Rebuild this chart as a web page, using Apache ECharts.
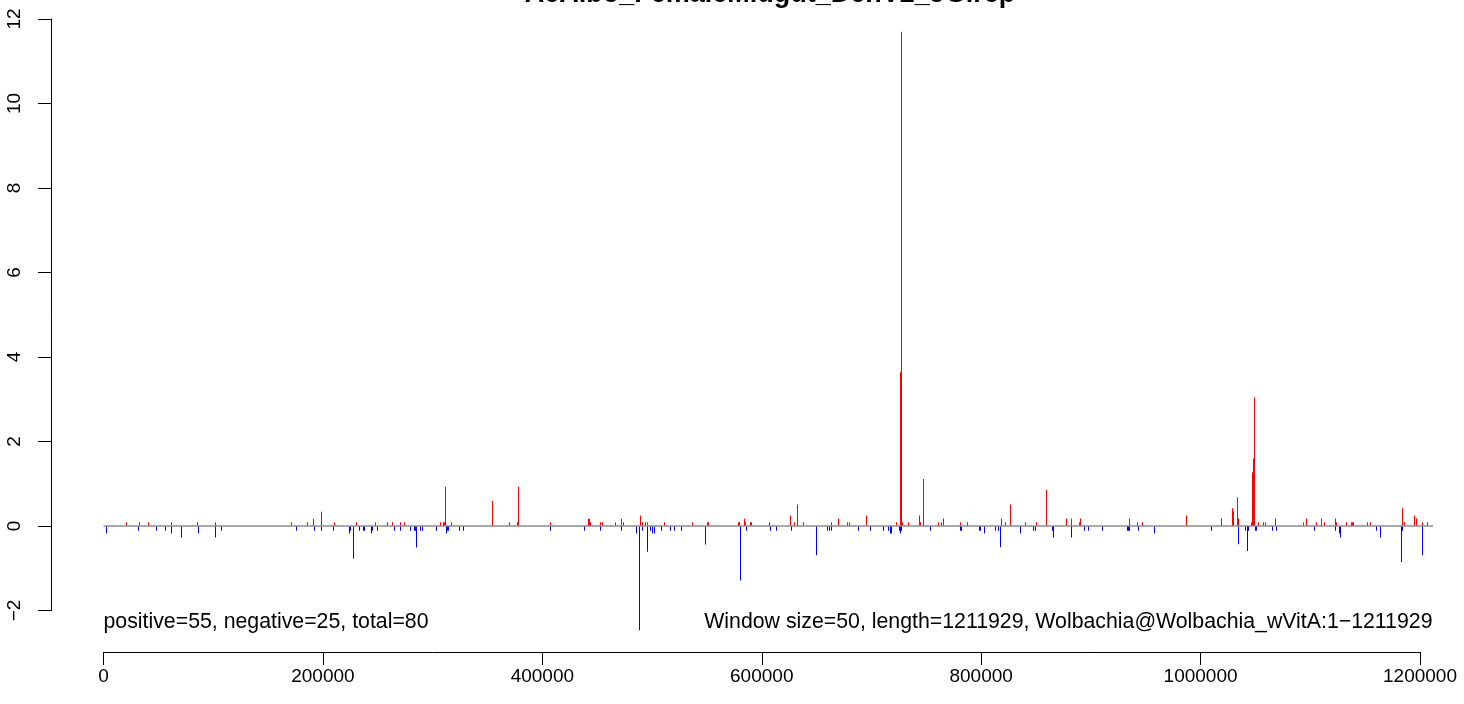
<!DOCTYPE html>
<html><head><meta charset="utf-8">
<script src="https://cdn.jsdelivr.net/npm/echarts@6/dist/echarts.min.js"></script>
<style>html,body{margin:0;padding:0;background:#fff}#c{width:1464px;height:704px}</style>
</head><body><div id="c"></div>
<script>
// ---------------- data ----------------
const titleText = 'AeAlbo_FemaleMidgut_DenV2_JG.rep';
const leftNote = 'positive=55, negative=25, total=80';
const rightNote = 'Window size=50, length=1211929, Wolbachia@Wolbachia_wVitA:1\u22121211929';
const seqLength = 1211929;
const xTickMin = 0, xTickMax = 1200000, xTickStep = 200000;
const yTickMin = -2, yTickMax = 12, yTickStep = 2;

// [position (bp), value]  — positive strand (red)
const plusStrand = [
 [20800,0.09],[32600,0.09],[40800,0.09],[61800,0.09],[85500,0.09],[101900,0.09],[171200,0.09],[185800,0.09],[191200,0.17],[198500,0.34],
 [210400,0.09],[230400,0.09],[247700,0.09],[258700,0.09],[263200,0.09],[270500,0.09],[274200,0.09],[307000,0.09],[309700,0.09],[310600,0.09],
 [311900,0.93],[317000,0.09],[354400,0.59],[369900,0.09],[377200,0.09],[378100,0.93],[407300,0.09],[441900,0.17],[442800,0.17],[443700,0.09],
 [452800,0.09],[454700,0.09],[466500,0.09],[472000,0.17],[473800,0.09],[489300,0.25],[491100,0.09],[493900,0.09],[495700,0.09],[511200,0.09],
 [536700,0.09],[550400,0.09],[551300,0.09],[578600,0.09],[579500,0.09],[584100,0.17],[585000,0.09],[589600,0.09],[590500,0.09],[606900,0.09],
 [626000,0.25],[629700,0.09],[632400,0.51],[637900,0.09],[663400,0.09],[669800,0.18],[678000,0.09],[679800,0.09],[695300,0.25],[722600,0.09],
 [726300,3.64],[727200,11.7],[728100,0.09],[733600,0.09],[743600,0.25],[744500,0.09],[747300,1.11],[760900,0.09],[763700,0.09],[765500,0.18],
 [781000,0.09],[787400,0.09],[818300,0.18],[822000,0.09],[826500,0.51],[840200,0.09],[850200,0.09],[859400,0.85],[877600,0.18],[882200,0.18],
 [889400,0.09],[890400,0.18],[935000,0.18],[942300,0.09],[946900,0.09],[987000,0.25],[1018900,0.18],[1028900,0.42],[1029800,0.35],[1033500,0.68],
 [1034400,0.18],[1046200,0.09],[1047100,1.27],[1048000,1.6],[1049000,3.04],[1052600,0.09],[1057200,0.09],[1059000,0.09],[1068100,0.18],[1093600,0.09],
 [1096400,0.18],[1105500,0.09],[1110000,0.18],[1112800,0.09],[1122800,0.18],[1123700,0.09],[1132800,0.09],[1137400,0.09],[1138300,0.09],[1139200,0.09],
 [1152000,0.09],[1154700,0.09],[1183900,0.42],[1185700,0.09],[1194800,0.25],[1196600,0.18],[1202100,0.09],[1206700,0.09]
];

// [position (bp), value]  — negative strand (blue)
const minusStrand = [
 [2600,-0.18],[31700,-0.11],[48100,-0.11],[56300,-0.11],[61800,-0.18],[70900,-0.27],[86400,-0.18],[101900,-0.27],[107400,-0.11],[176100,-0.11],
 [192100,-0.11],[198500,-0.11],[209500,-0.11],[224000,-0.18],[225000,-0.11],[227700,-0.77],[233200,-0.11],[236800,-0.11],[237700,-0.11],[244100,-0.18],
 [245000,-0.11],[249600,-0.11],[265100,-0.11],[270500,-0.11],[279600,-0.11],[283300,-0.11],[284200,-0.11],[285100,-0.51],[288800,-0.11],[290600,-0.11],
 [303300,-0.11],[312500,-0.18],[313400,-0.11],[314300,-0.11],[324300,-0.11],[328000,-0.11],[407300,-0.11],[438300,-0.11],[452800,-0.11],[472000,-0.11],
 [485600,-0.18],[488400,-2.47],[491100,-0.11],[495700,-0.61],[498400,-0.11],[500200,-0.18],[502000,-0.18],[508400,-0.11],[516600,-0.11],[520300,-0.11],
 [526700,-0.11],[548500,-0.44],[580400,-1.29],[585900,-0.11],[607800,-0.11],[613300,-0.11],[626900,-0.11],[649700,-0.69],[659700,-0.11],[661600,-0.11],
 [663400,-0.11],[688000,-0.11],[698900,-0.11],[710800,-0.11],[715300,-0.11],[717200,-0.18],[718100,-0.18],[725400,-0.11],[726300,-0.18],[727200,-0.11],
 [753600,-0.11],[781000,-0.11],[781900,-0.11],[798300,-0.11],[799200,-0.11],[802800,-0.18],[812900,-0.11],[815600,-0.11],[817400,-0.5],[835700,-0.18],
 [847500,-0.11],[849300,-0.11],[864800,-0.11],[865700,-0.27],[882200,-0.27],[894000,-0.11],[897600,-0.11],[910400,-0.11],[933200,-0.11],[934100,-0.11],
 [935000,-0.11],[943200,-0.11],[957800,-0.18],[1009800,-0.11],[1034400,-0.43],[1040800,-0.11],[1042600,-0.59],[1043500,-0.11],[1049900,-0.11],[1050800,-0.11],
 [1065400,-0.11],[1069000,-0.11],[1103600,-0.11],[1122800,-0.11],[1126400,-0.18],[1127400,-0.27],[1160200,-0.11],[1163800,-0.27],[1183000,-0.85],[1184000,-0.11],
 [1202100,-0.69]
];

// baseline drawn across the sequence
const baseline = [[0,0],[seqLength,0]];

// ---------------- layout ----------------
const FONT = '"Liberation Sans", Arial, Helvetica, sans-serif';
const W = 1464;
const X0PX = 103.5, X1PX = 1420;          // pixel of xTickMin and xTickMax
const pxPerUnit = (X1PX - X0PX) / (xTickMax - xTickMin);
const plotLeft = 51, plotTop = 19, zeroY = 526, axisY = 652;
const yPxPerUnit = (zeroY - plotTop) / yTickMax;
const xMinData = xTickMin - (X0PX - plotLeft) / pxPerUnit;
const xMaxData = xMinData + (W - plotLeft) / pxPerUnit;
const yMinData = -(axisY - zeroY) / yPxPerUnit;
const yAxisBottom = zeroY - yTickMin * yPxPerUnit;

function strandBars(color) {
  return function (params, api) {
    const x = api.value(0), v = api.value(1);
    const a = api.coord([x, 0]), b = api.coord([x, v]);
    const px = Math.floor(a[0]);
    const top = Math.min(a[1], b[1]);
    const h = Math.abs(a[1] - b[1]);
    return { type: 'rect', shape: { x: px, y: top, width: 1, height: h }, style: { fill: color } };
  };
}
const minusFmt = v => (v < 0 ? '\u2212' + Math.abs(v) : String(v));

const chart = echarts.init(document.getElementById('c'), null, { renderer: 'canvas' });
chart.setOption({
  animation: false,
  backgroundColor: '#ffffff',
  grid: [
    { left: plotLeft, right: 0, top: plotTop, height: axisY - plotTop, outerBoundsMode: 'none' },
    { left: plotLeft, top: plotTop, width: 10, height: yAxisBottom - plotTop, outerBoundsMode: 'none' },
    { left: X0PX, width: X1PX - X0PX, top: axisY - 1, height: 1, outerBoundsMode: 'none' }
  ],
  xAxis: [
    { gridIndex: 0, type: 'value', min: xMinData, max: xMaxData, show: false },
    { gridIndex: 1, type: 'value', min: 0, max: 1, show: false },
    { gridIndex: 2, type: 'value', min: xTickMin, max: xTickMax, interval: xTickStep, position: 'bottom',
      axisLine: { show: true, lineStyle: { color: '#000', width: 1 } },
      axisTick: { show: true, length: 13, inside: false, lineStyle: { color: '#000', width: 1 } },
      splitLine: { show: false },
      axisLabel: { show: true, margin: 15, color: '#000', fontSize: 19, fontFamily: FONT, formatter: v => String(v), showMinLabel: true, showMaxLabel: true, hideOverlap: false } }
  ],
  yAxis: [
    { gridIndex: 0, type: 'value', min: yMinData, max: yTickMax, show: false },
    { gridIndex: 1, type: 'value', min: yTickMin, max: yTickMax, interval: yTickStep, position: 'left',
      axisLine: { show: true, lineStyle: { color: '#000', width: 1 } },
      axisTick: { show: true, length: 13, inside: false, lineStyle: { color: '#000', width: 1 } },
      splitLine: { show: false },
      axisLabel: { show: true, rotate: 90, margin: 27, color: '#000', fontSize: 19, fontFamily: FONT, formatter: minusFmt, showMinLabel: true, showMaxLabel: true, hideOverlap: false } },
    { gridIndex: 2, type: 'value', min: 0, max: 1, show: false }
  ],
  series: [
    { type: 'custom', xAxisIndex: 0, yAxisIndex: 0, data: plusStrand, renderItem: strandBars('#ff0000'), z: 2, silent: true },
    { type: 'custom', xAxisIndex: 0, yAxisIndex: 0, data: minusStrand, renderItem: strandBars('#0000ff'), z: 2, silent: true },
    { type: 'line', xAxisIndex: 0, yAxisIndex: 0, data: baseline, symbol: 'none', z: 3, silent: true,
      lineStyle: { color: '#8c8c8c', width: 1.5 } }
  ],
  graphic: [
    { type: 'text', x: 770, y: -5, silent: true,
      style: { text: titleText, font: 'bold 27px ' + FONT, fill: '#000', align: 'center', verticalAlign: 'middle', textAlign: 'center', textVerticalAlign: 'middle' } },
    { type: 'text', x: X0PX, y: 622, silent: true,
      style: { text: leftNote, font: '21.3px ' + FONT, fill: '#000', align: 'left', verticalAlign: 'middle', textAlign: 'left', textVerticalAlign: 'middle' } },
    { type: 'text', x: 1432.5, y: 622, silent: true,
      style: { text: rightNote, font: '21.3px ' + FONT, fill: '#000', align: 'right', verticalAlign: 'middle', textAlign: 'right', textVerticalAlign: 'middle' } }
  ]
});
</script>
</body></html>
